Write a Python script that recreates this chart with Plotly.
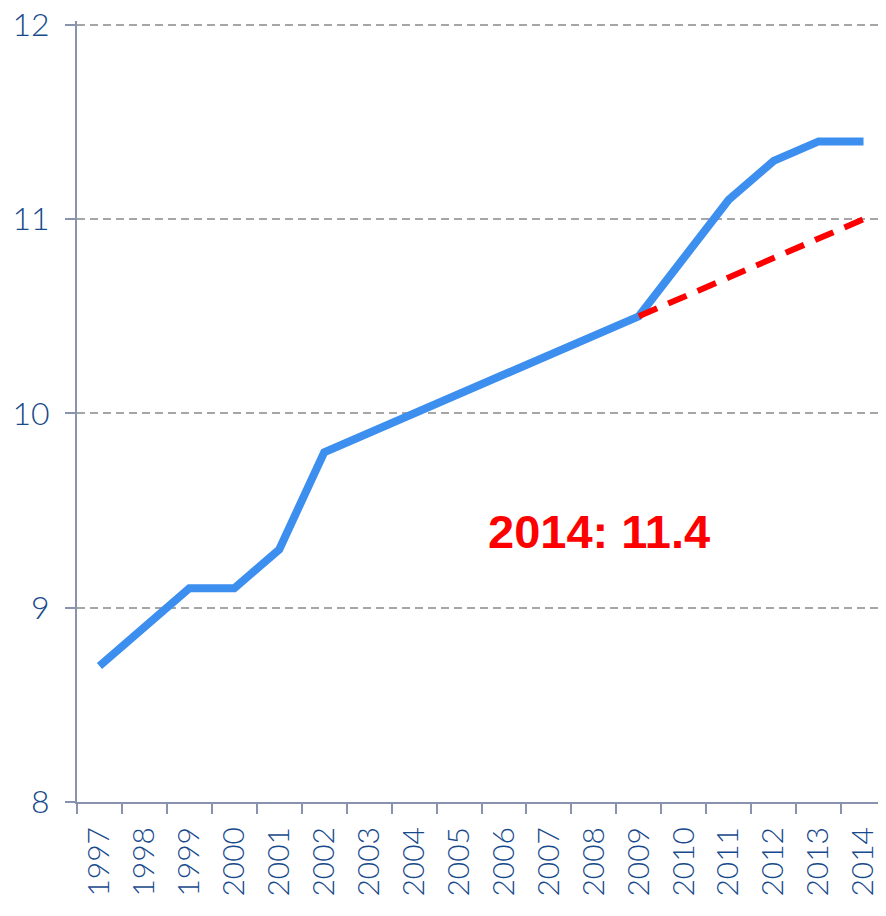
import plotly.graph_objects as go

years = [str(y) for y in range(1997, 2015)]
actual = [8.7, 8.9, 9.1, 9.1, 9.3, 9.8, 9.9, 10.0, 10.1, 10.2, 10.3, 10.4, 10.5, 10.8, 11.1, 11.3, 11.4, 11.4]
trend_years = [str(y) for y in range(2009, 2015)]
trend = [10.5, 10.6, 10.7, 10.8, 10.9, 11.0]
label_text = "<b>2014: 11.4</b>"

tick_color = "#174a8c"
axis_color = "#8a93ad"

fig = go.Figure()
fig.add_trace(go.Scatter(x=years, y=actual, mode="lines",
                         line=dict(color="#3d8fef", width=8), hoverinfo="skip"))
fig.add_trace(go.Scatter(x=trend_years, y=trend, mode="lines",
                         line=dict(color="#ff0000", width=6, dash="20px,12px"), hoverinfo="skip"))

fig.add_annotation(x=0.645, xref="paper", y=9.39, yref="y", text=label_text,
                   showarrow=False, font=dict(family="Liberation Sans, Arial", size=47, color="#ff0000"),
                   xanchor="center", yanchor="middle")

fig.update_layout(
    width=878, height=908,
    margin=dict(l=69, r=0, t=13, b=114),
    plot_bgcolor="white", paper_bgcolor="white",
    showlegend=False,
    xaxis=dict(type="category", range=[-0.5, 17.5], tickson="boundaries",
               ticks="outside", ticklen=10, tickwidth=2, tickcolor=axis_color,
               showline=True, linecolor=axis_color, linewidth=2, automargin=False,
               showgrid=False, tickangle=-90, ticklabelstandoff=11,
               tickfont=dict(family="Lato, Open Sans, sans-serif", size=30, weight=300, color=tick_color)),
    yaxis=dict(range=[8, 12.02], tickvals=[8, 9, 10, 11, 12],
               ticks="outside", ticklen=10, tickwidth=2, tickcolor=axis_color,
               showline=True, linecolor=axis_color, linewidth=2, automargin=False,
               showgrid=True, gridcolor="#a6a6a6", griddash="8px,5px", gridwidth=1.5,
               zeroline=False, ticklabelstandoff=9, ticklabeloverflow="allow",
               tickfont=dict(family="Lato, Open Sans, sans-serif", size=32, weight=300, color=tick_color)),
)

fig.write_html("out.html")
